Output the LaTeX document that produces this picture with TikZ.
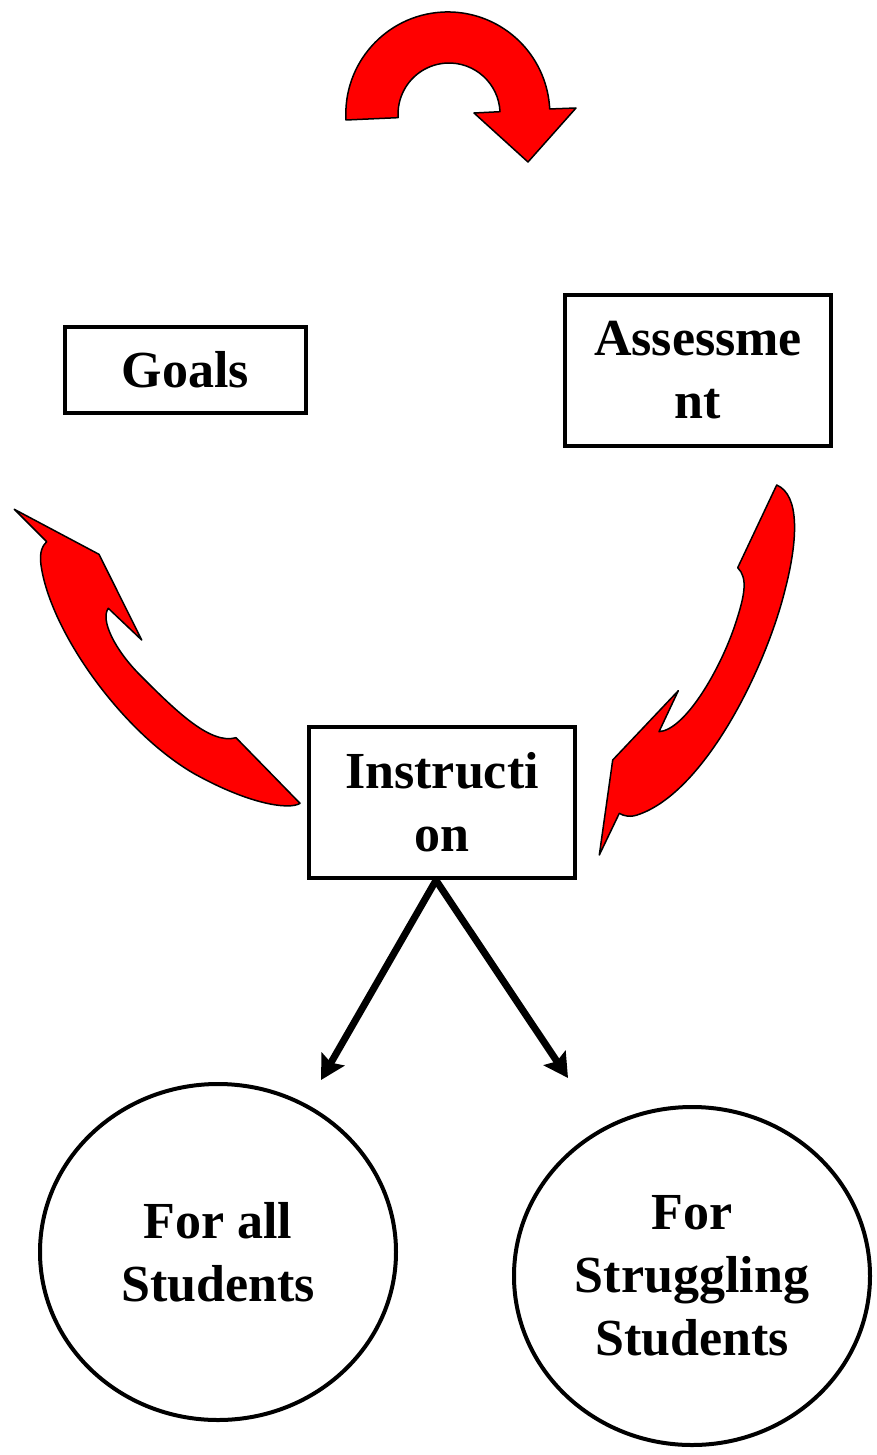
\documentclass[tikz,border=0pt]{standalone}
\usepackage{fontspec}
\setmainfont{Liberation Serif}
\usetikzlibrary{shapes.geometric,arrows.meta}
\tikzset{
  lbl/.style={font=\fontsize{52}{63}\selectfont\bfseries, align=center, inner sep=0pt},
  box/.style={lbl, draw=black, line width=4.5pt, rectangle},
  oval/.style={lbl, draw=black, line width=4pt, ellipse},
  redarrow/.style={fill=red, draw=black, line width=1.5pt, line join=round},
  blackarrow/.style={draw=black, line width=7pt, -{Stealth[length=24pt,width=26pt,inset=4pt]}}
}
\begin{document}
\begin{tikzpicture}[x=1pt,y=-1pt]
\useasboundingbox (0,0) rectangle (876,1455);

% boxes
\node[box, minimum width=241pt, minimum height=86pt] (goals) at (185.5,370) {Goals};
\node[box, minimum width=266pt, minimum height=151pt] (assess) at (698,370.5) {Assessme\\nt};
\node[box, minimum width=266pt, minimum height=151pt] (instr) at (442,802.5) {Instructi\\on};

% circles
\node[oval, minimum width=356pt, minimum height=336pt] (all) at (218,1252) {For all\\Students};
\node[oval, minimum width=356pt, minimum height=338pt] (strug) at (692,1276) {For\\Struggling\\Students};

% top curved arrow
\filldraw[redarrow] (346,120) arc[start angle=176.6, end angle=357.2, radius=102]
  -- (576,108) -- (528,162) -- (474,113) -- (500,111.7)
  arc[start angle=357.4, end angle=175.9, radius=51] -- cycle;

% left curved arrow
\filldraw[redarrow] (14.3,509.3) -- (99,554.3) -- (141.7,640) -- (108.3,608.3)
  .. controls (100,620) and (115,650) .. (140,675)
  .. controls (175,710) and (210,745) .. (236,737.7)
  -- (300,803.3)
  .. controls (290,810) and (250,805) .. (193,773)
  .. controls (120,730) and (50,630) .. (41,565)
  .. controls (39,552) and (43,545) .. (46.7,541.7)
  -- cycle;

% right curved arrow
\filldraw[redarrow] (776.7,485)
  .. controls (800,495) and (798,540) .. (785,590)
  .. controls (765,670) and (705,790) .. (640,814)
  .. controls (630,818) and (624,816) .. (619.3,813.3)
  -- (599.3,855) -- (612.7,760) -- (678.3,690.7) -- (659,731.7)
  .. controls (685,730) and (720,670) .. (735,625)
  .. controls (745,595) and (748,578) .. (737.7,567.7)
  -- cycle;

% black arrows
\coordinate (e1) at (321,1080);
\coordinate (e2) at (568,1078);
\draw[blackarrow] ([xshift=-6pt]instr.south) -- (e1);
\draw[blackarrow] ([xshift=-6pt]instr.south) -- (e2);
\end{tikzpicture}
\end{document}
